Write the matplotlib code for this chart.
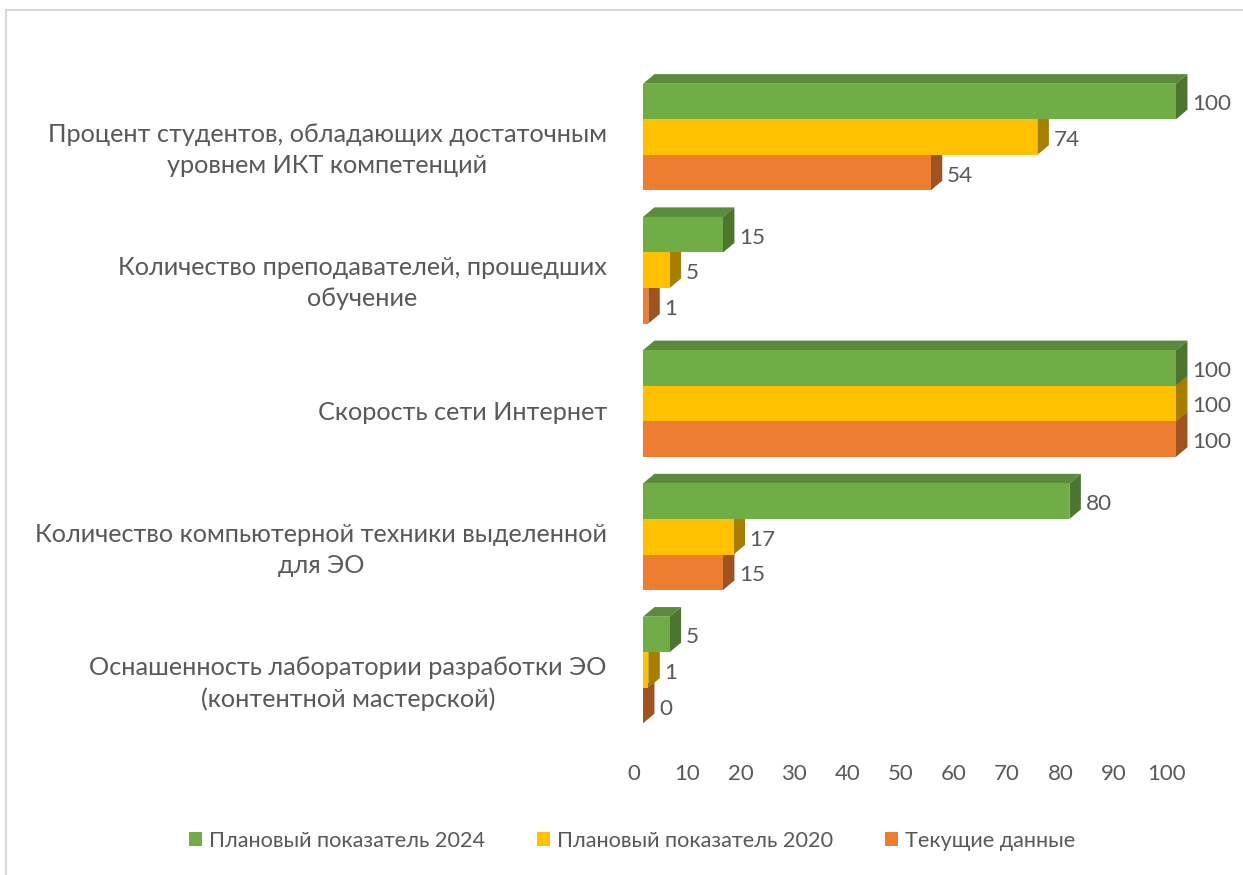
"""
3D-style horizontal bar chart: ICT indicators (plan 2024 / plan 2020 / current)
"""
import matplotlib
matplotlib.use('Agg')
import matplotlib.pyplot as plt
import matplotlib.transforms as mtransforms
from matplotlib.patches import Polygon, Rectangle, Patch

plt.rcParams['font.family'] = ['Lato', 'DejaVu Sans']

categories = [
    'Процент студентов, обладающих достаточным\nуровнем ИКТ компетенций',
    'Количество преподавателей, прошедших\nобучение',
    'Скорость сети Интернет',
    'Количество компьютерной техники выделенной\nдля ЭО',
    'Оснашенность лаборатории разработки ЭО\n(контентной мастерской)',
]
series_names = ['Плановый показатель 2024', 'Плановый показатель 2020', 'Текущие данные']
plan_2024 = [100, 15, 100, 80, 5]
plan_2020 = [74, 5, 100, 17, 1]
current = [54, 1, 100, 15, 0]
xticks = [0, 10, 20, 30, 40, 50, 60, 70, 80, 90, 100]

# front, top, side colours per series
colors = [
    ('#70AD47', '#5B8A3A', '#4C7530'),
    ('#FFC000', '#C79600', '#A87E00'),
    ('#ED7D31', '#B85F24', '#A0521F'),
]
text_color = '#595959'

W, H = 1243, 875
fig = plt.figure(figsize=(W / 100, H / 100), dpi=100)
ax = fig.add_axes([643 / W, 1 - 736.6 / H, 533 / W, 666.2 / H])
ax.set_xlim(0, 100)
ax.set_ylim(4.5, -0.5)

bar_h = 0.8 / 3
dx = 2.15    # depth in x data units
dy = 0.072   # depth in y data units (upwards)

all_series = [plan_2024, plan_2020, current]
# draw from bottom series to top so upper bars cover hidden faces
for s in [2, 1, 0]:
    values = all_series[s]
    front, top_c, side_c = colors[s]
    z = 2 + (2 - s) * 3
    ys = [i - bar_h + s * bar_h for i in range(len(values))]
    ax.barh(ys, values, height=bar_h, color=front, zorder=z + 1, linewidth=0)
    for y, v in zip(ys, values):
        top = y - bar_h / 2
        bot = y + bar_h / 2
        ax.add_patch(Polygon([(0, top), (v, top), (v + dx, top - dy), (dx, top - dy)],
                             closed=True, facecolor=top_c, edgecolor='none',
                             zorder=z, clip_on=False))
        ax.add_patch(Polygon([(v, top), (v + dx, top - dy), (v + dx, bot - dy), (v, bot)],
                             closed=True, facecolor=side_c, edgecolor='none',
                             zorder=z, clip_on=False))
        ax.annotate(str(v), xy=(v, y), xytext=(16, -3), textcoords='offset pixels',
                    ha='left', va='center', fontsize=16.2, color=text_color,
                    zorder=20, annotation_clip=False)

for sp in ax.spines.values():
    sp.set_visible(False)
ax.set_facecolor('none')

ax.set_xticks(xticks)
ax.set_xticklabels([str(t) for t in xticks])
ax.tick_params(axis='x', length=0, pad=20, labelsize=16, labelcolor=text_color)
shift_x = mtransforms.ScaledTranslation(-9 / 100, 0, fig.dpi_scale_trans)
for lab in ax.get_xticklabels():
    lab.set_transform(lab.get_transform() + shift_x)

ax.set_yticks(range(len(categories)))
ax.set_yticklabels(categories)
ax.tick_params(axis='y', length=0, pad=26, labelsize=18.2, labelcolor=text_color)
shift_y = mtransforms.ScaledTranslation(0, -7 / 100, fig.dpi_scale_trans)
for lab in ax.get_yticklabels():
    lab.set_transform(lab.get_transform() + shift_y)
    lab.set_multialignment('center')
    lab.set_linespacing(1.42)

handles = [Patch(facecolor=c[0], edgecolor='none') for c in colors]
fig.legend(handles, series_names, loc='center', bbox_to_anchor=(632 / W, 1 - 841 / H),
           ncol=3, frameon=False, fontsize=15.6, labelcolor=text_color,
           handlelength=0.6, handleheight=0.6, handletextpad=0.32, columnspacing=2.4)

# light chart-area border (top and left edges visible)
fig.patches.append(Rectangle((5.5 / W, -0.1), 2.0, 1.1 - 9.5 / H, transform=fig.transFigure,
                             fill=False, edgecolor='#D9D9D9', linewidth=1.5))

fig.savefig('out.png', dpi=100)
